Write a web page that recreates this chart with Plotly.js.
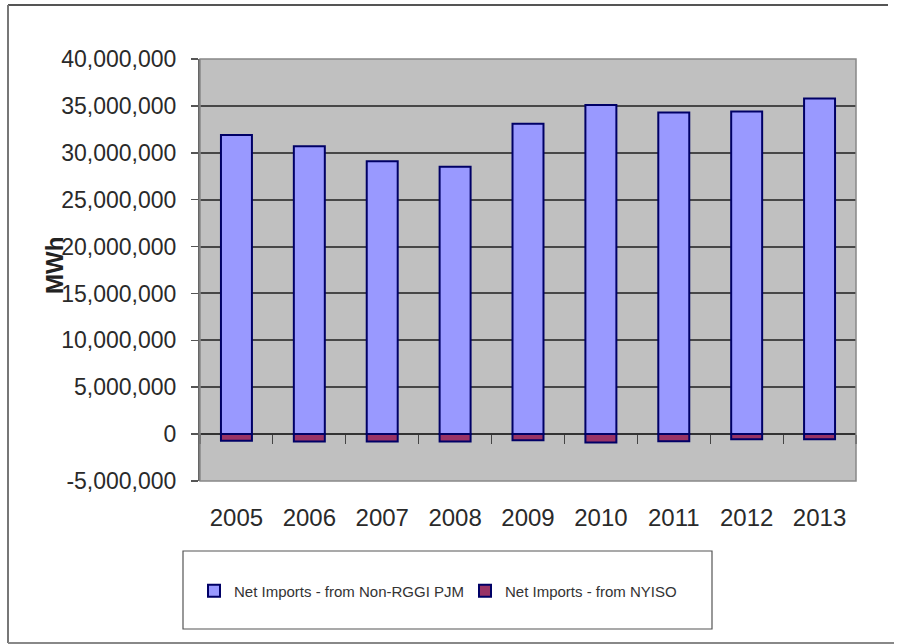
<!DOCTYPE html>
<html>
<head>
<meta charset="utf-8">
<script src="https://cdn.plot.ly/plotly-3.0.1.min.js"></script>
<style>
html,body{margin:0;padding:0;background:#fff;}
#chart{width:898px;height:644px;}
</style>
</head>
<body>
<div id="chart"></div>
<script>
const years = ['2005','2006','2007','2008','2009','2010','2011','2012','2013'];
const pjmImports = [31900000, 30700000, 29100000, 28500000, 33100000, 35100000, 34300000, 34400000, 35800000];
const nyisoImports = [-700000, -800000, -800000, -800000, -650000, -900000, -750000, -550000, -550000];
const yTickVals = [-5000000, 0, 5000000, 10000000, 15000000, 20000000, 25000000, 30000000, 35000000, 40000000];
const yTickText = ['-5,000,000','0','5,000,000','10,000,000','15,000,000','20,000,000','25,000,000','30,000,000','35,000,000','40,000,000'];

const W = 898, H = 644;
const M = {l: 200, r: 42, t: 59, b: 163};
const PW = W - M.l - M.r, PH = H - M.t - M.b;
function px(x){ return (x - M.l) / PW; }
function py(y){ return (H - M.b - y) / PH; }

const font = 'Liberation Sans, Arial, sans-serif';

const traces = [
  {
    type: 'bar', name: 'Net Imports - from Non-RGGI PJM',
    x: years, y: pjmImports,
    marker: {color: '#9999FF', line: {color: '#000066', width: 2}},
    hoverinfo: 'skip'
  },
  {
    type: 'bar', name: 'Net Imports - from NYISO',
    x: years, y: nyisoImports,
    marker: {color: '#993366', line: {color: '#000066', width: 2}},
    hoverinfo: 'skip'
  },
  {
    type: 'scatter', mode: 'none', x: years, y: nyisoImports,
    xaxis: 'x2', showlegend: false, hoverinfo: 'skip'
  }
];

const layout = {
  width: W, height: H,
  margin: M,
  paper_bgcolor: '#ffffff',
  plot_bgcolor: '#C0C0C0',
  barmode: 'relative',
  bargap: 0.575,
  showlegend: true,
  font: {family: font, color: '#2a2a2a'},
  xaxis: {
    type: 'category', range: [-0.5, 8.5],
    showgrid: false, showline: false, zeroline: false,
    ticks: '', ticklabelstandoff: 20,
    tickfont: {size: 24, color: '#2a2a2a', family: font}
  },
  xaxis2: {
    type: 'category', overlaying: 'x', matches: 'x',
    anchor: 'free', position: py(H - M.b - PH * (5/45)),
    side: 'bottom', showticklabels: false, showgrid: false,
    showline: false, zeroline: false,
    ticks: 'outside', tickson: 'boundaries', ticklen: 9,
    tickcolor: '#444', tickwidth: 1.2
  },
  yaxis: {
    range: [-5000000, 40000000],
    tickvals: yTickVals, ticktext: yTickText,
    ticks: 'outside', ticklen: 7, tickcolor: '#555', tickwidth: 1.5,
    showline: true, linecolor: '#666', linewidth: 2,
    showgrid: true, gridcolor: '#474747', gridwidth: 2,
    zeroline: true, zerolinecolor: '#333', zerolinewidth: 1.5,
    ticklabelstandoff: 10,
    tickfont: {size: 23, color: '#2a2a2a', family: font}
  },
  legend: {
    orientation: 'h',
    x: px(194), xanchor: 'left',
    y: py(591), yanchor: 'middle',
    bgcolor: 'rgba(0,0,0,0)', borderwidth: 0,
    entrywidth: 226, entrywidthmode: 'pixels',
    font: {family: 'Liberation Sans Narrow, Arial Narrow, ' + font, size: 15, color: '#333'}
  },
  annotations: [
    {
      text: '<b>MWh</b>', textangle: -90,
      xref: 'paper', yref: 'paper',
      x: px(54), y: py(266), xanchor: 'center', yanchor: 'middle',
      showarrow: false,
      font: {family: font, size: 24, color: '#222'}
    }
  ],
  shapes: [
    {type: 'rect', xref: 'paper', yref: 'paper', x0: 0, x1: 1, y0: 0, y1: 1,
     line: {color: '#888', width: 1.5}, layer: 'above'},
    {type: 'rect', xref: 'paper', yref: 'paper', x0: px(183), x1: px(712), y0: py(629), y1: py(551),
     line: {color: '#555', width: 1.2}, fillcolor: 'rgba(0,0,0,0)'},
    {type: 'line', xref: 'paper', yref: 'paper', x0: px(8), x1: px(888), y0: py(5), y1: py(5),
     line: {color: '#555', width: 2}},
    {type: 'line', xref: 'paper', yref: 'paper', x0: px(8), x1: px(8), y0: py(5), y1: py(643),
     line: {color: '#777', width: 2}},
    {type: 'line', xref: 'paper', yref: 'paper', x0: px(8), x1: px(894), y0: py(643), y1: py(643),
     line: {color: '#888', width: 2}}
  ]
};

Plotly.newPlot('chart', traces, layout, {displayModeBar: false, staticPlot: true});
</script>
</body>
</html>
